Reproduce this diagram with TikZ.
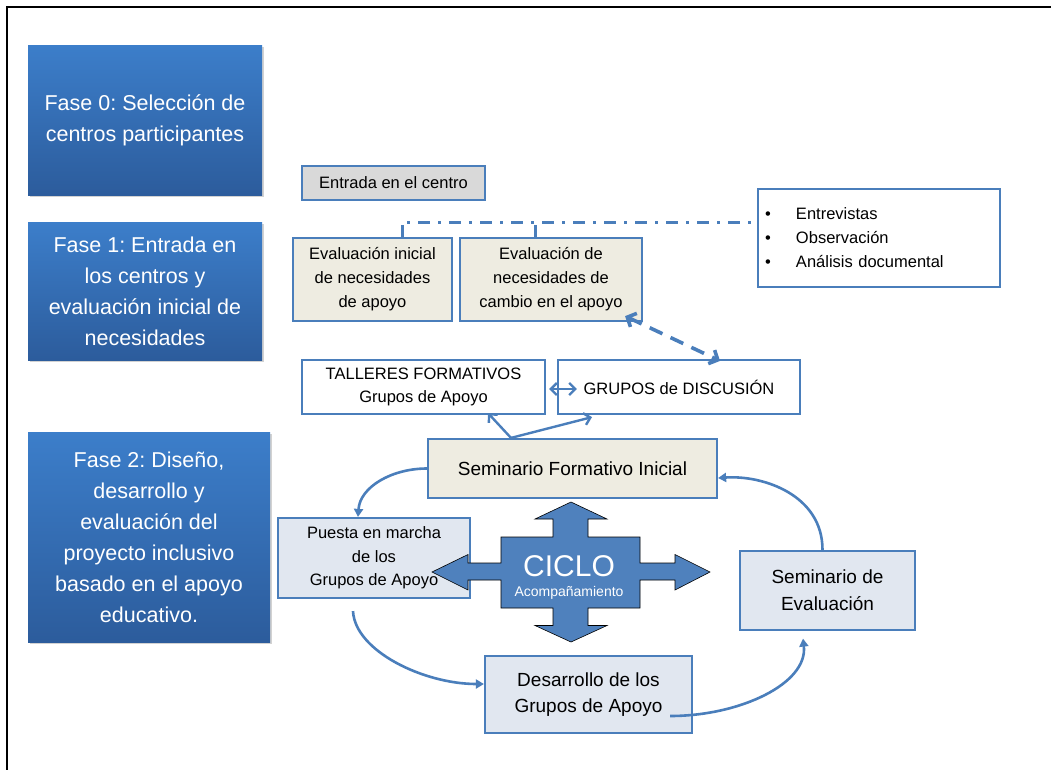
\documentclass[tikz,border=0pt]{standalone}
\usepackage{fontspec}
\setmainfont{Liberation Sans}
\usetikzlibrary{arrows.meta,shadows,calc}
\definecolor{bord}{HTML}{4A7EBB}
\definecolor{faseTop}{HTML}{3C7ECA}
\definecolor{faseBot}{HTML}{2C5C9C}
\definecolor{beige}{HTML}{EEECE1}
\definecolor{grayf}{HTML}{D9D9D9}
\definecolor{lblue}{HTML}{E1E7F0}
\definecolor{crossf}{HTML}{4F81BD}
\frenchspacing
\begin{document}
\begin{tikzpicture}[x=1pt,y=-1pt,
  fase/.style={rectangle, top color=faseTop, bottom color=faseBot, draw=none, text=white, align=center,
    font=\fontsize{21.5}{31}\selectfont, drop shadow={shadow xshift=2pt,shadow yshift=-2pt,opacity=0.35}, inner sep=0pt},
  bbox/.style={rectangle, draw=bord, line width=2.2pt, align=center, inner sep=0pt, font=\fontsize{16.5}{24}\selectfont},
  mbox/.style={bbox, font=\fontsize{19}{26.5}\selectfont},
  arr/.style={draw=bord, line width=2.4pt, -{Straight Barb[length=6pt,width=12pt]}},
  carr/.style={draw=bord, line width=2.6pt, -{Triangle[length=8pt,width=9pt]}},
  darr/.style={draw=bord, line width=2.4pt, {Straight Barb[length=6pt,width=12pt]}-{Straight Barb[length=6pt,width=12pt]}},
  dd/.style={draw=bord, line width=3pt, dash pattern=on 12pt off 8pt on 3pt off 8pt},
  dashedarr/.style={draw=bord, line width=3.6pt, dash pattern=on 14pt off 9pt,
    {Straight Barb[length=7pt,width=15pt]}-{Straight Barb[length=7pt,width=15pt]}},
  crossshape/.style={fill=crossf, draw=black, line width=0.6pt},
  crosstext/.style={text=white, inner sep=0pt}
]
\useasboundingbox (0,0) rectangle (1051,769);
\fill[white] (-6,-6) rectangle (1060,778);
\draw[line width=1.5pt] (7,780) -- (7,7) -- (1062,7);

% phase boxes
\node[fase, minimum width=234pt, minimum height=150pt] (f0) at (145,120) {Fase 0: Selección de\\centros participantes};
\node[fase, minimum width=234pt, minimum height=138pt] (f1) at (145,291) {Fase 1: Entrada en\\los centros y\\evaluación inicial de\\necesidades};
\node[fase, minimum width=242pt, minimum height=210pt] (f2) at (149,537) {Fase 2: Diseño,\\desarrollo y\\evaluación del\\proyecto inclusivo\\basado en el apoyo\\educativo.};

% fase 1 boxes
\node[bbox, fill=grayf, minimum width=183pt, minimum height=34pt] (ent) at (393.5,183) {Entrada en el centro};
\node[bbox, fill=beige, minimum width=159pt, minimum height=83pt] (ei) at (372.5,279.5) {Evaluación inicial\\de necesidades\\de apoyo};
\node[bbox, fill=beige, minimum width=182pt, minimum height=83pt] (ec) at (551,279.5) {Evaluación de\\necesidades de\\cambio en el apoyo};
\node[bbox, fill=white, minimum width=242pt, minimum height=98pt, align=left, text width=228pt] (bul) at (879,238)
  {\makebox[31pt][l]{•}Entrevistas\\\makebox[31pt][l]{•}Observación\\\makebox[31pt][l]{•}Análisis documental};

\draw[dd] ([xshift=29.5pt]ei.north) |- ([yshift=16pt]bul.west);
\draw[dd] ([xshift=-16pt]ec.north) -- ++(0,-16);

% fase 2 boxes
\node[bbox, fill=white, minimum width=243pt, minimum height=54pt, font=\fontsize{16.5}{23}\selectfont] (tf) at (423.5,387) {TALLERES FORMATIVOS\\Grupos de Apoyo};
\node[bbox, fill=white, minimum width=242pt, minimum height=54pt] (gd) at (679,387) {GRUPOS de DISCUSIÓN};
\node[mbox, fill=beige, minimum width=289pt, minimum height=59pt] (sfi) at (572.5,468.5) {Seminario Formativo Inicial};
\node[bbox, fill=lblue, minimum width=192pt, minimum height=80pt, font=\fontsize{16.5}{23.5}\selectfont] (pm) at (374,558) {};
\node[mbox, fill=lblue, minimum width=175pt, minimum height=79pt, font=\fontsize{19}{27}\selectfont] (sev) at (827.5,590.5) {Seminario de\\Evaluación};
\node[mbox, fill=lblue, minimum width=207pt, minimum height=77pt] (dev) at (588.5,694.5) {\raisebox{-3pt}{\parbox{200pt}{\centering Desarrollo de los\\Grupos de Apoyo}}};

% cross
\draw[crossshape] (571,502) -- (607,519) -- (588,519) -- (588,537) -- (640,537) -- (640,563) -- (675,563) -- (675,554.5)
  -- (710,572) -- (675,590) -- (675,580) -- (640,580) -- (640,608) -- (588,608) -- (588,625.5) -- (607,625.5)
  -- (571,642) -- (535,625.5) -- (553,625.5) -- (553,608) -- (501,608) -- (501,580) -- (468,580) -- (468,590)
  -- (432,572) -- (468,554.5) -- (468,563) -- (501,563) -- (501,537) -- (553,537) -- (553,519) -- (535,519) -- cycle;
\node[crosstext, font=\fontsize{30}{30}\selectfont] (ciclo) at (569,566) {CICLO};
\node[crosstext, font=\fontsize{14}{14}\selectfont] (acomp) at (569,593) {Acompañamiento};
\node[inner sep=0pt, align=center, font=\fontsize{16.5}{23.5}\selectfont] (pmt) at (pm.center) {Puesta en marcha\\de los\\Grupos de Apoyo};

% connectors
\draw[dashedarr] ([xshift=-18pt,yshift=6pt]ec.south east) -- ([xshift=41pt,yshift=-2pt]gd.north);
\coordinate (o) at ([xshift=-61.5pt]sfi.north);
\draw[arr] (o) -- ([xshift=64.5pt,yshift=2pt]tf.south);
\draw[arr] (o) -- ([xshift=-87pt,yshift=-2pt]gd.south);
\draw[darr] ([xshift=3pt,yshift=-2pt]tf.east) -- ([xshift=20pt,yshift=-2pt]gd.west);

\draw[carr] (sfi.west) .. controls +(-35,0) and +(2,-30) .. ([xshift=-16pt]pm.north);
\draw[carr] ([xshift=-21pt,yshift=-12pt]pm.south) .. controls +(2,40) and +(-60,0) .. ([yshift=10.5pt]dev.west);
\draw[carr] ([xshift=81.5pt,yshift=-21.5pt]dev.center) .. controls +(70,0) and +(5,45) .. ([xshift=-24.5pt,yshift=-7.5pt]sev.south);
\draw[carr] ([xshift=-5pt]sev.north) .. controls +(0,-55) and +(45,-3) .. ([yshift=-9.5pt]sfi.east);
\end{tikzpicture}
\end{document}
